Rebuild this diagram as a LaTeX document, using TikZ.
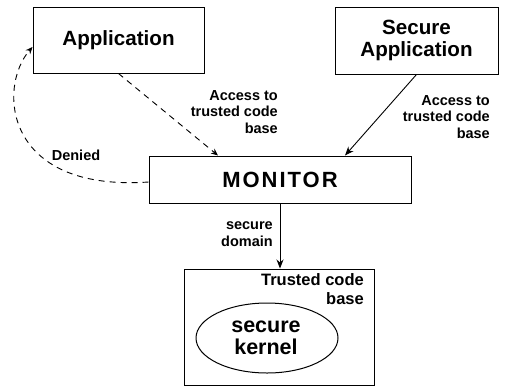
\documentclass[tikz,border=0pt]{standalone}
\usepackage{fontspec}
\setmainfont{Liberation Sans}
\newfontfamily\monfont[LetterSpace=9]{Liberation Sans}
\usetikzlibrary{arrows.meta,shapes.geometric}
\begin{document}
\begin{tikzpicture}[x=1pt,y=-1pt,
  box/.style={draw,line width=1pt,inner sep=0pt,align=center},
  lbl/.style={inner sep=0pt,align=right,font=\bfseries\fontsize{14.5}{16.5}\selectfont},
  conn/.style={line width=0.9pt,-{Stealth[length=9pt,width=7pt]}},
  dconn/.style={line width=0.9pt,dash pattern=on 6pt off 5pt,-{Stealth[length=7pt,width=6pt]}}]
\useasboundingbox (0,0) rectangle (505,386);
\node[box,minimum width=171pt,minimum height=66pt,font=\bfseries\fontsize{20.6}{22}\selectfont] (app) at (118.5,40) {Application};
\node[box,minimum width=163pt,minimum height=67pt,font=\bfseries\fontsize{20.6}{22}\selectfont] (sec) at (416.5,40.5) {Secure\\Application};
\node[box,minimum width=262pt,minimum height=47pt,font=\monfont\bfseries\fontsize{22}{22}\selectfont] (mon) at (280,179.5) {MONITOR};
\node[box,minimum width=190pt,minimum height=116pt] (tcb) at (279,327) {};
\node[draw,line width=1pt,ellipse,minimum width=142pt,minimum height=70pt,inner sep=0pt] (ker) at (267,338) {};
\node[inner sep=0pt,align=center,font=\bfseries\fontsize{21.5}{22}\selectfont] (kert) at (266,338) {secure\\kernel};
\node[lbl,anchor=east] (l1) at (278,112) {Access to\\trusted code\\base};
\node[lbl,anchor=east] (l2) at (490,117) {Access to\\trusted code\\base};
\node[lbl] (den) at (76,155) {Denied};
\node[lbl,anchor=east] (sd) at (273,234) {secure\\domain};
\node[lbl,anchor=north east,font=\bfseries\fontsize{16.5}{19.5}\selectfont] (tcl) at (364,273) {Trusted code\\base};
\draw[dconn] (app.south) -- ([xshift=-62pt]mon.north);
\draw[conn] (sec.south) -- ([xshift=65pt]mon.north);
\draw[conn] (mon.south) -- (mon.south |- tcb.north);
\draw[dconn] ([yshift=-2.5pt]mon.west) .. controls +(-145,10) and +(-35,40) .. ([yshift=-7pt]app.west);
\end{tikzpicture}
\end{document}
